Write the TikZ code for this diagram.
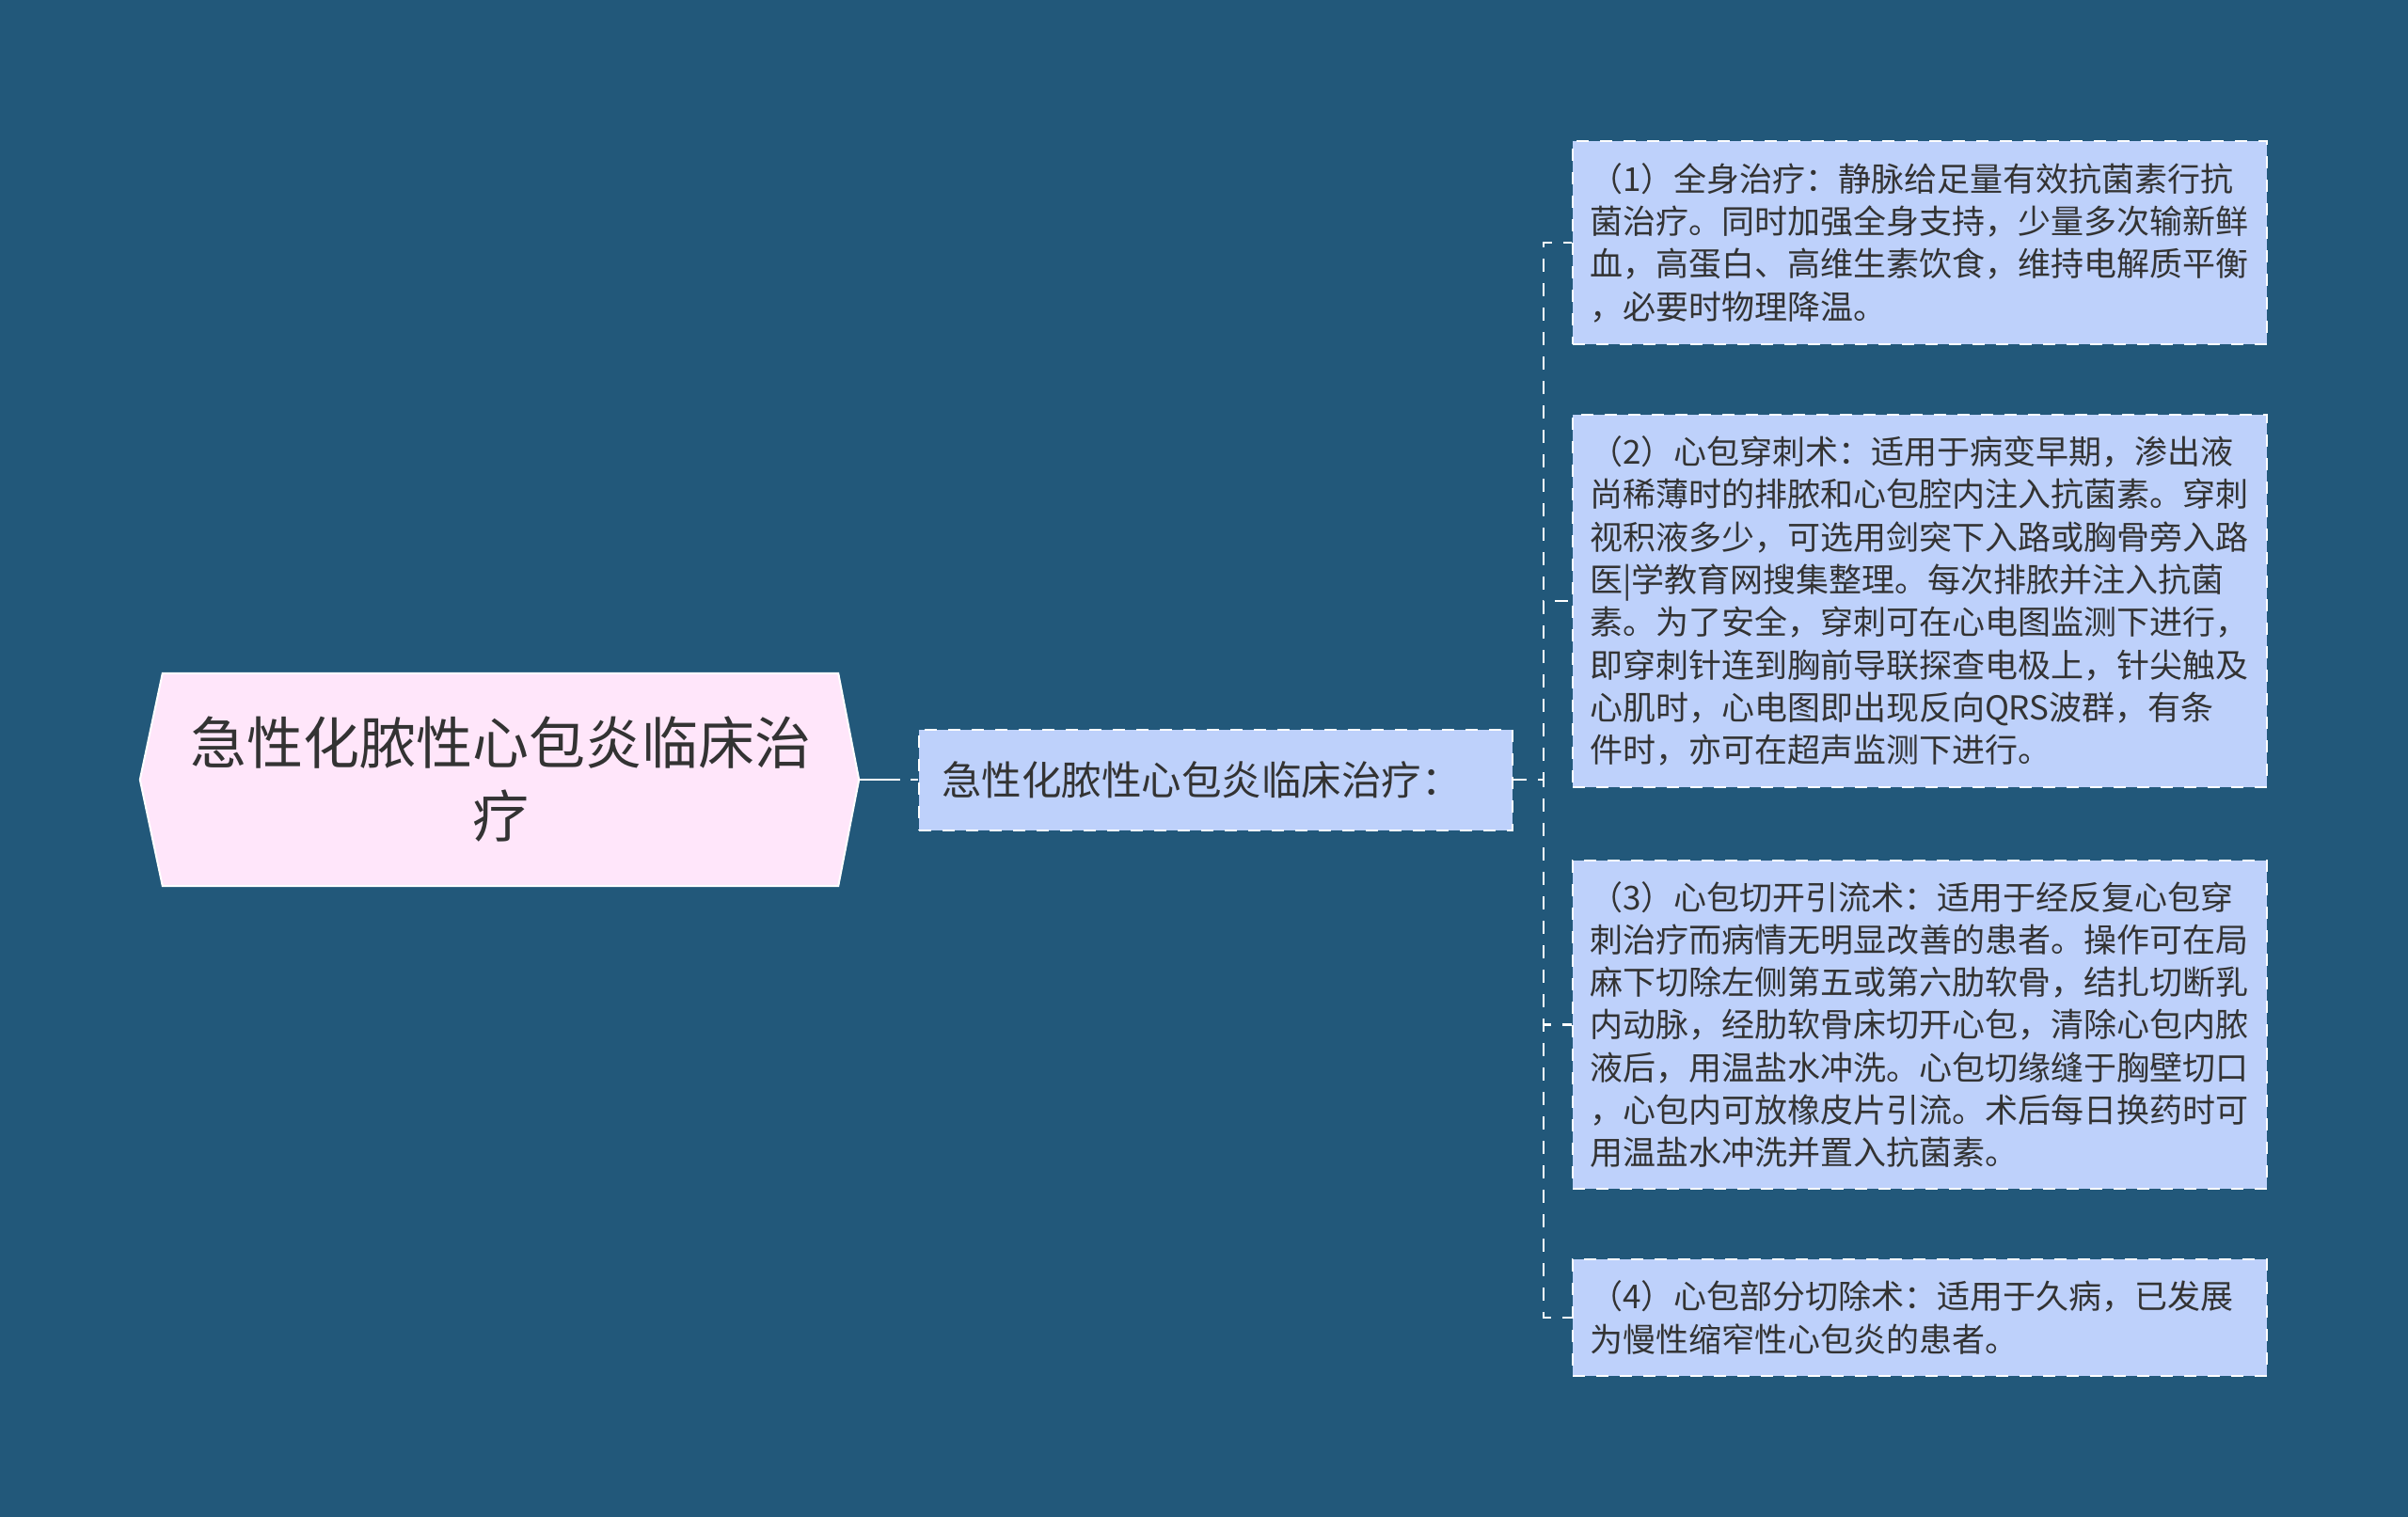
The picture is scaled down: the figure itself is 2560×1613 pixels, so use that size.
\documentclass[tikz,border=0pt]{standalone}
\usepackage{fontspec}
\newfontfamily\cjk{Noto Sans CJK SC}
\usetikzlibrary{positioning,backgrounds}
\definecolor{bgblue}{RGB}{34,88,122}
\definecolor{rootpink}{RGB}{255,230,250}
\definecolor{boxblue}{RGB}{190,209,251}
\definecolor{inkgray}{RGB}{51,51,51}

\begin{document}
\begin{tikzpicture}[
        x=1pt, y=-1pt,
        R/.style={rectangle, minimum width=718pt, minimum height=226pt, inner sep=0pt, text width=718pt, align=center, text=inkgray, font=\cjk\fontsize{60pt}{78pt}\selectfont},
        M/.style={rectangle, draw=white, line width=2pt, dash pattern=on 13pt off 12pt, fill=boxblue, minimum width=631pt, minimum height=107pt, inner xsep=24pt, text width=583pt, align=left, text=inkgray, font=\cjk\fontsize{42.5pt}{50pt}\selectfont},
        T/.style={rectangle, draw=white, line width=2pt, dash pattern=on 13pt off 12pt, fill=boxblue, minimum width=738pt, inner xsep=18pt, text width=702pt, align=left, text=inkgray, font=\cjk\fontsize{35pt}{45.3pt}\selectfont},
        link/.style={draw=white, line width=2.5pt, dash pattern=on 14pt off 12pt},
        node distance=73pt
    ]
    \useasboundingbox (0,0) rectangle (2560,1613);
    \begin{scope}[on background layer]
        \fill[bgblue] (0,0) rectangle (2560,1613);
    \end{scope}

    \node[R]      (root)     at (532,829)  {急性化脓性心包炎临床治\\疗};
    \coordinate   (rtip)     at ([xshift=22pt]root.east);
    \coordinate   (ltip)     at ([xshift=-24pt]root.west);
    \begin{scope}[on background layer]
        \draw[white, line width=2pt, fill=rootpink] (root.north west) -- (root.north east) -- (rtip) -- (root.south east) -- (root.south west) -- (ltip) -- cycle;
    \end{scope}

    \node[M]      (mid)      at (1292.5,829) {急性化脓性心包炎临床治疗：};

    \node[T, minimum height=216pt] (c1) at (2041,258) {（1）全身治疗：静脉给足量有效抗菌素行抗\\菌治疗。同时加强全身支持，少量多次输新鲜\\血，高蛋白、高维生素饮食，维持电解质平衡\\，必要时物理降温。};
    \node[T, minimum height=396pt] (c2) [below=of c1] {（2）心包穿刺术：适用于病变早期，渗出液\\尚稀薄时的排脓和心包腔内注入抗菌素。穿刺\\视积液多少，可选用剑突下入路或胸骨旁入路\\医|学教育网搜集整理。每次排脓并注入抗菌\\素。为了安全，穿刺可在心电图监测下进行，\\即穿刺针连到胸前导联探查电极上，针尖触及\\心肌时，心电图即出现反向QRS波群，有条\\件时，亦可在超声监测下进行。};
    \node[T, minimum height=349pt] (c3) [below=76pt of c2] {（3）心包切开引流术：适用于经反复心包穿\\刺治疗而病情无明显改善的患者。操作可在局\\麻下切除左侧第五或第六肋软骨，结扎切断乳\\内动脉，经肋软骨床切开心包，清除心包内脓\\液后，用温盐水冲洗。心包切缘缝于胸壁切口\\，心包内可放橡皮片引流。术后每日换药时可\\用温盐水冲洗并置入抗菌素。};
    \node[T, minimum height=124pt] (c4) [below=of c3] {（4）心包部分切除术：适用于久病，已发展\\为慢性缩窄性心包炎的患者。};

    \draw[link, dash pattern=on 44pt off 11pt on 9pt off 20pt] (rtip) -- (mid.west);
    \foreach \k in {1,...,4}
        \draw[link] (mid.east) -- ++(32,0) |- (c\k.west);
\end{tikzpicture}
\end{document}
